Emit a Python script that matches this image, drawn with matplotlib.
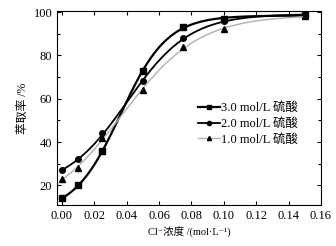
import numpy as np
import matplotlib
matplotlib.use("Agg")
import matplotlib.pyplot as plt
from matplotlib.lines import Line2D
from matplotlib.ticker import MultipleLocator

# Cl- concentration (mol/L)
cl_conc = [0.0, 0.01, 0.025, 0.05, 0.075, 0.10, 0.15]
# extraction rate (%) for each sulfuric acid concentration
rate_30 = [14, 20, 36, 73, 93, 97, 98.5]
rate_20 = [27, 32, 44, 68, 88, 96, 98.5]
rate_10 = [23, 28, 42, 64, 84, 92, 98]
labels = ["3.0 mol/L 硫酸", "2.0 mol/L 硫酸", "1.0 mol/L 硫酸"]

FONT = ["Liberation Serif", "DejaVu Serif", "Noto Sans CJK SC"]
plt.rcParams["font.family"] = FONT


def boltzmann(p, x):
    a1, a2, x0, dx = p
    return a2 + (a1 - a2) / (1 + np.exp((x - x0) / dx))


def fit_boltzmann(x, y):
    # simple Levenberg-Marquardt fit of the Boltzmann sigmoid
    x = np.asarray(x, float)
    y = np.asarray(y, float)
    p = np.array([y[0], y[-1], 0.045, 0.012])
    lam = 1e-3
    for _ in range(500):
        r = y - boltzmann(p, x)
        J = np.empty((len(x), 4))
        for i in range(4):
            h = 1e-6 * max(abs(p[i]), 1e-3)
            dp = p.copy()
            dp[i] += h
            J[:, i] = (boltzmann(dp, x) - boltzmann(p, x)) / h
        A = J.T @ J
        g = J.T @ r
        step = np.linalg.solve(A + lam * np.diag(np.diag(A)), g)
        pn = p + step
        if np.sum((y - boltzmann(pn, x)) ** 2) < np.sum(r ** 2):
            p = pn
            lam *= 0.3
        else:
            lam *= 10
    return p


fig = plt.figure(figsize=(3.36, 2.46), dpi=100)
ax = fig.add_axes([0.170, 0.167, 0.785, 0.788])

series = [
    (rate_30, "s", "black", 1.6),
    (rate_20, "o", "black", 1.3),
    (rate_10, "^", "#b0b0b0", 1.0),
]
xs = np.linspace(0, 0.15, 300)
handles = []
for (vals, mk, col, lw), lab in zip(series, labels):
    p = fit_boltzmann(cl_conc, vals)
    ax.plot(xs, boltzmann(p, xs), color=col, lw=lw)
    ax.plot(cl_conc, vals, linestyle="none", marker=mk, color="black",
            markersize=4)
    handles.append(Line2D([], [], color=col, lw=lw, marker=mk,
                          markerfacecolor="black", markeredgecolor="black",
                          markersize=3))

ax.set_xlim(-0.003, 0.16)
ax.set_ylim(11, 100.5)
ticks = np.arange(0, 0.161, 0.02)
ax.set_xticks(ticks)
ax.set_xticklabels([f"{t:.2f}" for t in ticks])
ax.yaxis.set_major_locator(MultipleLocator(20))
ax.yaxis.set_minor_locator(MultipleLocator(10))
ax.tick_params(direction="in", top=True, right=True, which="both",
               labelsize=9, length=3, width=0.8)
ax.tick_params(which="minor", length=2)
for s in ax.spines.values():
    s.set_linewidth(0.8)

ax.set_xlabel("Cl⁻浓度 /(mol·L⁻¹)", fontsize=7.5, labelpad=4)
ax.set_ylabel("萃取率 /%", fontsize=8.5, labelpad=3)

ax.legend(handles, labels, loc="upper left", bbox_to_anchor=(0.535, 0.53),
          frameon=False, fontsize=9, handlelength=1.75, handletextpad=0.1,
          labelspacing=0.3, borderaxespad=0, borderpad=0)

fig.savefig("out.png", dpi=100)
